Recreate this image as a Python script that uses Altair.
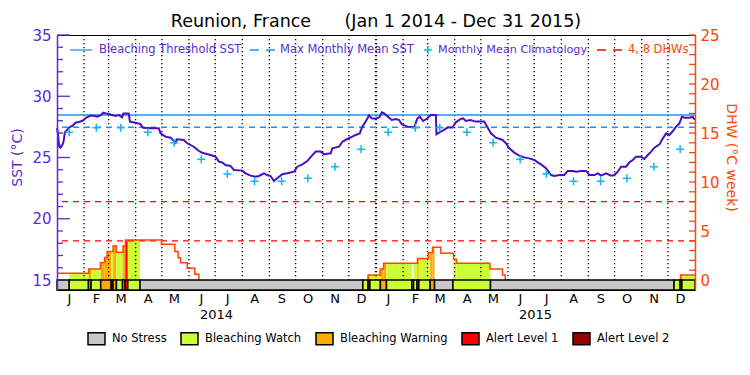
import altair as alt
import numpy as np
import pandas as pd

ORIGIN = pd.Timestamp("2014-01-01")
END_DAY = 730
FONT = "DejaVu Sans"

TITLE = "Reunion, France\u00a0\u00a0\u00a0\u00a0\u00a0\u00a0(Jan 1 2014 - Dec 31 2015)"

# ---------------- data ----------------
# SST trace: day offset from 2014-01-01, value in deg C
sst_day = [0, 1, 2.5, 4, 6, 7.5, 9, 12, 15, 18, 21, 25, 28.6, 31, 34, 38, 42, 46, 50, 53,
           56, 59, 63, 67, 70.6, 74.5, 76, 82, 83.5, 89.7, 95.5, 98.5, 107, 116.5, 118.4,
           124, 130, 135.6, 137, 145, 149, 156.5, 162, 166, 175.7, 181.4, 185.2, 189, 192.8,
           198.5, 202.4, 212, 215.8, 221.5, 227.3, 231, 236.8, 240.6, 244.4, 248.2, 252,
           257.8, 263.5, 271.2, 275, 280.7, 286.4, 292.2, 296, 301.7, 305.5, 313.2, 315,
           322.7, 326.5, 332.2, 337.9, 341.8, 346.4, 349.4, 353.2, 357, 360, 365, 369,
           371.6, 374.3, 380, 383.1, 387.7, 391.5, 394.5, 401, 408.6, 412.4, 415.1, 418.9,
           423.9, 427.7, 433.5, 434.2, 439.1, 442.9, 446.8, 452.5, 456.3, 462.1, 464.8,
           467.8, 473.5, 478.5, 488.8, 492.7, 496.5, 502.2, 509.9, 513.7, 517.5, 523.2,
           529, 534.7, 540.4, 546.2, 550, 553.8, 559.5, 565.3, 569.1, 574.8, 580.5, 584.4,
           590.1, 593.9, 599.6, 605.4, 609.2, 614.9, 618.7, 622.5, 628.3, 634, 637.8,
           641.6, 645.4, 651.2, 655, 658.8, 662.6, 668.3, 672.1, 676, 679.8, 683.6, 689.4,
           693.2, 697, 700.8, 704.6, 708.4, 712.2, 715, 718, 723.7, 727.5, 730]
sst_val = [27.4, 27.0, 25.9, 25.8, 26.0, 26.3, 27.05, 27.3, 27.5, 27.6, 27.84, 27.9, 27.98,
           28.1, 28.28, 28.41, 28.4, 28.33, 28.45, 28.66, 28.6, 28.55, 28.47, 28.39, 28.47,
           28.28, 28.6, 28.6, 27.92, 27.84, 27.73, 27.43, 27.38, 27.38, 26.97, 26.7, 26.62,
           26.2, 26.48, 26.43, 26.16, 25.88, 25.55, 25.39, 25.2, 25.07, 24.66, 24.6, 24.39,
           24.31, 23.98, 23.93, 23.71, 23.52, 23.44, 23.49, 23.71, 23.57, 23.49, 23.08, 23.3,
           23.63, 23.71, 23.84, 24.25, 24.44, 24.71, 25.2, 25.48, 25.48, 25.26, 25.34, 25.75,
           25.88, 26.29, 26.51, 26.7, 26.84, 26.97, 27.52, 27.93, 28.45, 28.2, 28.17, 28.3,
           28.69, 28.6, 28.25, 28.06, 28.14, 28.06, 27.71, 27.52, 27.46, 28.2, 28.33, 27.98,
           28.2, 28.47, 28.47, 26.89, 27.11, 27.25, 27.44, 27.44, 27.87, 28.14, 28.2,
           27.98, 28.06, 27.93, 27.93, 27.44, 26.97, 26.62, 26.43, 26.16, 25.75, 25.4,
           25.15, 25.01, 24.93, 24.8, 24.6, 24.44, 24.12, 23.57, 23.49, 23.57, 23.57, 23.9,
           23.9, 23.84, 23.9, 23.9, 23.57, 23.57, 23.71, 23.52, 23.71, 23.52, 23.57,
           23.84, 24.25, 24.25, 24.61, 24.8, 25.07, 25.07, 24.88, 25.2, 25.48, 25.8, 26.07,
           26.56, 26.97, 26.84, 27.16, 27.52, 27.79, 28.33, 28.25, 28.25, 28.31, 28.06]

# Monthly mean climatology (Jan..Dec), plotted mid-month in both years
clim_val = [27.06, 27.43, 27.43, 27.06, 26.2, 24.85, 23.65, 23.06, 23.06, 23.3, 24.25, 25.67]
mmm_sst = 27.47
threshold_sst = 28.47
dhw_levels = [4, 8]

# Degree heating weeks, step function: value holds from each day until the next
dhw_day = [0, 36.2, 49.6, 54.5, 57.3, 64.2, 67.9, 75.6, 78.3, 119.5, 134.8, 138.6, 141.3,
           149, 157.7, 162.3, 355.9, 369.7, 373.6, 412.5, 424.9, 429.7, 439.2, 453.8, 457,
           495.4, 509.7, 512.9, 713.4]
dhw_val = [0.68, 1.12, 1.77, 2.3, 2.9, 3.47, 2.82, 3.47, 4.07, 3.64, 2.9, 2.28, 1.77,
           1.19, 0.58, 0, 0.51, 1.12, 1.7, 2.2, 2.79, 3.33, 2.72, 2.11, 1.7,
           1.12, 0.51, 0, 0.51]

# Bleaching alert (stress) level, step function
stress_start = [0, 14, 36, 39, 50, 62, 64, 68, 75, 78, 81, 95,
                350, 356, 358, 370, 377, 406, 408, 412, 414, 427, 432, 453, 496, 706, 713, 715]
stress_code = [0, 1, 2, 1, 2, 1, 2, 1, 2, 3, 1, 0,
               1, 2, 1, 2, 1, 0, 1, 2, 1, 2, 0, 1, 0, 1, 2, 1]
stress_names = ["No Stress", "Bleaching Watch", "Bleaching Warning", "Alert Level 1", "Alert Level 2"]
stress_colors = ["#c8c8c8", "#ccff33", "#ffaa00", "#ff0000", "#990000"]

year_labels = ["2014", "2015"]

# ---------------- styles ----------------
PURPLE = "#5a2ad2"
SST_LINE = "#4b0ec2"
BLUE = "#1e90ff"
CYAN = "#10b8f0"
RED = "#ff0000"
ORANGERED = "#ff4500"

PLOT_W, PLOT_H = 638, 255
SST_MAX, DHW_MAX = 35, 25
PX_PER_SST = 245 / 20.0
SST_MIN = 15 - 10 / PX_PER_SST
DHW_MIN = -10 / (245 / 25.0)


def to_date(days):
    idx = ORIGIN + pd.to_timedelta(np.asarray(days, dtype=float), unit="D")
    return list(idx.strftime("%Y-%m-%dT%H:%M:%SZ"))


def lookup(starts, vals, d):
    i = int(np.searchsorted(starts, d, side="right")) - 1
    return vals[i]


# ---------------- tables ----------------
sst_df = pd.DataFrame({"date": to_date(sst_day), "sst": sst_val})

clim_dates = [f"{y}-{m:02d}-15T00:00:00Z" for y in (2014, 2015) for m in range(1, 13)]
clim_df = pd.DataFrame({"date": clim_dates, "sst": clim_val * 2})

# DHW outline, split into segments where DHW > 0
rows = []
seg, prev = 0, 0
for d, v in zip(dhw_day, dhw_val):
    if v > 0 and prev == 0:
        seg += 1
        if d > 0:
            rows.append((d, 0.0, seg))
        rows.append((d, v, seg))
    elif v > 0:
        rows.append((d, v, seg))
    elif prev > 0:
        rows.append((d, 0.0, seg))
    prev = v
if prev > 0:
    rows.append((END_DAY, prev, seg))
dhw_line_df = pd.DataFrame(rows, columns=["day", "dhw", "seg"])
dhw_line_df["date"] = to_date(dhw_line_df["day"])
dhw_line_df["idx"] = range(len(dhw_line_df))

# DHW fill coloured by stress level
bps = sorted(set(stress_start + dhw_day + [END_DAY]))
fill_rows = []
for a, b in zip(bps[:-1], bps[1:]):
    s = lookup(stress_start, stress_code, a)
    v = lookup(dhw_day, dhw_val, a)
    if s > 0 and v > 0:
        if fill_rows and fill_rows[-1][2] == s and fill_rows[-1][3] == v and fill_rows[-1][1] == a:
            fill_rows[-1][1] = b
        else:
            fill_rows.append([a, b, s, v])
fill_df = pd.DataFrame(fill_rows, columns=["a", "b", "s", "dhw"])
fill_df["start"] = to_date(fill_df["a"])
fill_df["end"] = to_date(fill_df["b"])
fill_df["stress"] = [stress_names[s] for s in fill_df["s"]]
fill_df["base"] = 0

# stress bar
stress_end = stress_start[1:] + [END_DAY]
bar_df = pd.DataFrame({
    "start": to_date(stress_start),
    "end": to_date(stress_end),
    "stress": [stress_names[s] for s in stress_code],
    "lo": DHW_MIN,
    "hi": 0,
})

month_rule_df = pd.DataFrame({
    "date": [f"{y}-{m:02d}-01T00:00:00Z" for y in (2014, 2015) for m in range(1, 13)][1:],
})
month_rule_df["top"] = DHW_MAX
month_rule_df["bottom"] = 0
month_rule_df["year_start"] = month_rule_df["date"].str.startswith("2015-01")

year_df = pd.DataFrame({"date": ["2014-07-02T12:00:00Z", "2015-07-02T12:00:00Z"], "label": year_labels})

level_df = pd.DataFrame({"level": dhw_levels})
sst_major_df = pd.DataFrame({"v": [20, 25, 30, 35]})
sst_minor_df = pd.DataFrame({"v": [v for v in range(16, 35) if v % 5]})
dhw_tick_df = pd.DataFrame({"v": list(range(1, 26))})
one = pd.DataFrame({"k": [0]})

# ---------------- scales / axes ----------------
x_scale = alt.Scale(type="utc", domain=[alt.DateTime(year=2014, month=1, date=1, utc=True),
                                        alt.DateTime(year=2016, month=1, date=1, utc=True)])
month_starts = [alt.DateTime(year=y, month=m, date=1, utc=True) for y in (2014, 2015) for m in range(1, 13)]
x_axis = alt.Axis(values=month_starts, title=None, grid=False, ticks=False, domain=False,
                  labelExpr="substring(utcFormat(datum.value, '%b'), 0, 1)",
                  labelOffset=12, labelAlign="center", labelPadding=2, labelFontSize=13,
                  labelColor="black", labelFont=FONT, labelOverlap=False, labelFlush=False,
                  labelBound=False)

sst_scale = alt.Scale(domain=[SST_MIN, SST_MAX], nice=False, zero=False)
dhw_scale = alt.Scale(domain=[DHW_MIN, DHW_MAX], nice=False, zero=False)

left_axis = alt.Axis(orient="left", values=[15, 20, 25, 30, 35], ticks=False, grid=False,
                     labelPadding=6, labelFontSize=15, labelFont=FONT, labelColor=PURPLE,
                     domainColor=PURPLE, domainWidth=1.5, labelFlush=False, title="SST (°C)",
                     titleColor=PURPLE, titleFont=FONT, titleFontSize=14, titleFontWeight="normal",
                     titleX=-40, titleY=122, titleAngle=270, titleAlign="center",
                     titleBaseline="middle", zindex=1)
right_axis = alt.Axis(orient="right", values=[0, 5, 10, 15, 20, 25], ticks=False, grid=False,
                      labelPadding=5, labelFontSize=15, labelFont=FONT, labelColor=ORANGERED,
                      domainColor=ORANGERED, domainWidth=1.5, labelFlush=False,
                      title="DHW (°C week)", titleColor=ORANGERED, titleFont=FONT,
                      titleFontSize=14, titleFontWeight="normal", titleX=35, titleY=122,
                      titleAngle=90, titleAlign="center", titleBaseline="middle", zindex=1)

stress_fill = alt.Fill("stress:N", scale=alt.Scale(domain=stress_names, range=stress_colors),
                       legend=alt.Legend(title=None, orient="none", legendX=30, legendY=294,
                                         direction="horizontal", columns=5,
                                         symbolType="M-1,-0.7H1V0.7H-1Z", symbolSize=289,
                                         symbolStrokeColor="black", symbolStrokeWidth=1.5,
                                         symbolOpacity=1, labelFontSize=11.5, labelFont=FONT,
                                         labelColor="black", columnPadding=11, labelOffset=6,
                                         padding=0))


def X(field="date"):
    return alt.X(f"{field}:T", scale=x_scale, axis=x_axis)


# ---------------- group A: DHW fills, grid, levels (right axis) ----------------
fills = alt.Chart(fill_df).mark_rect().encode(
    x=X("start"), x2="end:T",
    y=alt.Y("dhw:Q", scale=dhw_scale, axis=right_axis), y2="base:Q",
    fill=stress_fill,
)
month_rules = alt.Chart(month_rule_df).mark_rule(color="black", strokeDash=[1.3, 2.7]).encode(
    x=X("date"),
    y=alt.Y("top:Q", scale=dhw_scale, axis=right_axis), y2="bottom:Q",
    strokeWidth=alt.condition("datum.year_start", alt.value(2.2), alt.value(1.3)),
)
levels = alt.Chart(level_df).mark_rule(color=RED, strokeDash=[6, 5], strokeWidth=1.3).encode(
    y=alt.Y("level:Q", scale=dhw_scale, axis=right_axis),
)
right_ticks = alt.Chart(dhw_tick_df).mark_rule(color=ORANGERED, strokeWidth=1.3).encode(
    y=alt.Y("v:Q", scale=dhw_scale, axis=right_axis),
    x=alt.value(PLOT_W - 6), x2=alt.value(PLOT_W),
)
group_a = alt.layer(fills, month_rules, levels, right_ticks)

# ---------------- group B: SST (left axis) ----------------
thr = alt.Chart(pd.DataFrame({"v": [threshold_sst]})).mark_rule(color=BLUE, strokeWidth=1.3).encode(
    y=alt.Y("v:Q", scale=sst_scale, axis=left_axis))
mmm = alt.Chart(pd.DataFrame({"v": [mmm_sst]})).mark_rule(
    color=BLUE, strokeWidth=1.3, strokeDash=[6, 5]).encode(
    y=alt.Y("v:Q", scale=sst_scale, axis=left_axis))
sst_line = alt.Chart(sst_df).mark_line(color=SST_LINE, strokeWidth=2, interpolate="linear").encode(
    x=X("date"), y=alt.Y("sst:Q", scale=sst_scale, axis=left_axis))
clim = alt.Chart(clim_df).mark_point(shape="M-1,0H1M0,-1V1", size=64, filled=False,
                                     color=CYAN, strokeWidth=1.5, opacity=1).encode(
    x=X("date"), y=alt.Y("sst:Q", scale=sst_scale, axis=left_axis))
left_major = alt.Chart(sst_major_df).mark_rule(color=PURPLE, strokeWidth=1.3).encode(
    y=alt.Y("v:Q", scale=sst_scale, axis=left_axis), x=alt.value(0), x2=alt.value(13))
left_minor = alt.Chart(sst_minor_df).mark_rule(color=PURPLE, strokeWidth=1.3).encode(
    y=alt.Y("v:Q", scale=sst_scale, axis=left_axis), x=alt.value(0), x2=alt.value(6))

LEG_Y = 15
leg_items = [
    alt.Chart(one).mark_rule(color=BLUE, strokeWidth=1.3).encode(
        x=alt.value(13), x2=alt.value(35), y=alt.value(LEG_Y)),
    alt.Chart(one).mark_text(align="left", baseline="middle", font=FONT, fontSize=11.5, color=PURPLE).encode(
        x=alt.value(42), y=alt.value(LEG_Y), text=alt.value("Bleaching Threshold SST")),
    alt.Chart(one).mark_rule(color=BLUE, strokeWidth=1.3, strokeDash=[9, 7]).encode(
        x=alt.value(193), x2=alt.value(218), y=alt.value(LEG_Y)),
    alt.Chart(one).mark_text(align="left", baseline="middle", font=FONT, fontSize=11.5, color=PURPLE).encode(
        x=alt.value(223), y=alt.value(LEG_Y), text=alt.value("Max Monthly Mean SST")),
    alt.Chart(one).mark_point(shape="M-1,0H1M0,-1V1", size=64, filled=False, color=CYAN,
                              strokeWidth=1.5, opacity=1).encode(
        x=alt.value(371), y=alt.value(LEG_Y)),
    alt.Chart(one).mark_text(align="left", baseline="middle", font=FONT, fontSize=11.2, color=PURPLE).encode(
        x=alt.value(381), y=alt.value(LEG_Y), text=alt.value("Monthly Mean Climatology")),
    alt.Chart(one).mark_rule(color=RED, strokeWidth=1.3, strokeDash=[9, 7]).encode(
        x=alt.value(540), x2=alt.value(565), y=alt.value(LEG_Y)),
    alt.Chart(one).mark_text(align="left", baseline="middle", font=FONT, fontSize=11.5, color=ORANGERED).encode(
        x=alt.value(571), y=alt.value(LEG_Y), text=alt.value("4, 8 DHWs")),
]
group_b = alt.layer(thr, mmm, sst_line, clim, left_major, left_minor, *leg_items)

# ---------------- group C: DHW outline, stress bar, year labels ----------------
dhw_line = alt.Chart(dhw_line_df).mark_line(color=ORANGERED, strokeWidth=1.5, interpolate="step-after").encode(
    x=X("date"), y=alt.Y("dhw:Q", scale=dhw_scale, axis=None),
    detail="seg:N", order="idx:Q")
bar = alt.Chart(bar_df).mark_rect(stroke="black", strokeWidth=1.5).encode(
    x=X("start"), x2="end:T",
    y=alt.Y("lo:Q", scale=dhw_scale, axis=None), y2="hi:Q",
    fill=stress_fill)
years = alt.Chart(year_df).mark_text(font=FONT, fontSize=13, color="black", baseline="middle").encode(
    x=X("date"), y=alt.value(280), text="label:N")
group_c = alt.layer(dhw_line, bar, years)

chart = alt.layer(group_a, group_b, group_c).resolve_scale(y="independent").properties(
    width=PLOT_W, height=PLOT_H,
    padding={"left": 49, "top": 27, "right": 47, "bottom": 75},
    autosize=alt.AutoSizeParams(type="none"),
    title=alt.TitleParams(text=TITLE, font=FONT, fontSize=17.5, fontWeight="normal",
                          color="black", anchor="middle", frame="group", offset=-2),
).configure_view(stroke="black", strokeWidth=1)

chart.save("out.html", embed_options={"renderer": "svg", "actions": False})
